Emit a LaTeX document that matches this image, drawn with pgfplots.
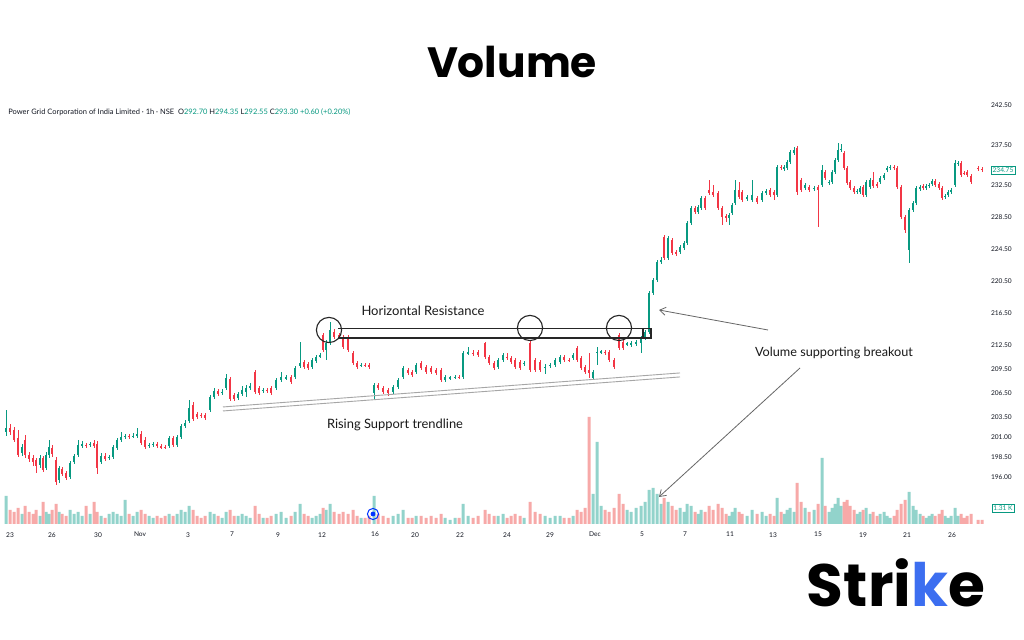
\documentclass[border=0pt]{standalone}
\usepackage{pgfplots}
\pgfplotsset{compat=1.18}
\usepackage{pgfplotstable}
\usepackage{fontspec}
\usetikzlibrary{arrows.meta}
\setmainfont{Lato}
\newfontfamily\pop{Poppins}
\definecolor{cup}{HTML}{089981}
\definecolor{cdn}{HTML}{F23645}
\definecolor{vup}{HTML}{92D3CB}
\definecolor{vdn}{HTML}{F7A9A8}
\definecolor{logoblue}{HTML}{3C6EF0}
\definecolor{txt}{HTML}{131722}
\newcommand\tickfont{\fontsize{3.3}{4}\selectfont\color{txt}}

\pgfplotstableread{
x o h l c v
6 201.60 204.35 201.10 202.10 560
10 202.10 202.60 201.23 201.60 280
14 201.85 202.23 200.35 200.60 240
18 200.85 201.85 198.48 198.73 320
22 198.98 200.10 198.60 199.73 200
25 200.60 201.23 198.35 198.73 360
29 198.73 199.10 197.85 198.23 240
33 198.35 198.73 197.35 197.85 200
36 198.10 198.35 196.48 197.35 280
40 197.48 198.73 197.10 198.35 160
43 198.35 198.60 196.60 196.85 440
46 197.10 199.10 196.85 198.73 240
49 198.73 200.60 198.35 199.73 200
52 199.60 199.98 198.48 198.85 280
56 198.10 198.48 194.98 195.35 400
59 195.60 197.35 195.23 197.10 240
62 196.98 197.23 196.10 196.35 200
66 196.48 196.73 195.60 195.85 160
70 195.98 197.98 195.73 197.73 280
74 197.85 198.85 197.60 198.60 200
78 198.73 200.60 198.48 199.98 240
82 199.85 200.48 199.60 200.10 160
86 199.98 200.23 199.60 199.85 360
90 199.98 200.35 199.73 200.10 200
94 200.23 200.60 199.60 199.85 440
97 200.10 200.48 196.35 197.10 240
101 197.85 198.98 197.60 198.60 160
105 198.60 198.98 197.98 198.23 120
109 198.35 198.73 198.10 198.48 200
113 198.48 199.98 198.23 199.73 240
117 199.60 200.85 199.35 200.60 200
121 200.60 201.60 200.35 200.98 160
125 200.98 201.35 200.73 201.10 480
129 201.10 201.35 200.73 200.98 200
133 200.98 201.48 200.85 201.10 160
137 201.10 202.10 200.85 201.35 240
141 201.35 201.73 199.98 200.23 280
145 200.60 200.98 199.48 199.73 200
149 199.85 200.23 199.60 199.98 160
153 199.98 200.35 199.73 200.10 120
157 200.10 200.35 199.60 199.85 160
161 199.85 200.10 199.48 199.60 120
165 199.73 199.98 199.48 199.65 160
169 199.85 201.10 199.60 200.85 200
173 200.85 201.10 199.73 199.98 160
177 199.98 201.23 199.73 200.98 200
181 200.98 202.60 200.73 202.35 280
185 202.35 203.10 202.10 202.73 240
189 202.98 205.60 202.73 204.60 360
193 204.98 205.35 202.98 203.23 280
197 203.85 204.10 203.23 203.48 160
201 203.73 203.98 203.35 203.60 120
205 203.73 203.98 203.10 203.35 160
210 204.35 206.23 204.10 205.98 240
214 205.98 207.10 205.73 206.73 200
218 206.73 206.98 206.10 206.35 160
222 206.48 206.98 206.23 206.60 120
226 207.10 208.85 206.85 208.35 240
230 208.23 208.48 205.48 205.73 280
234 206.23 206.48 205.48 205.73 160
238 205.85 206.60 205.60 206.35 160
242 206.35 207.35 206.10 206.85 200
246 206.60 207.48 205.98 207.10 160
250 207.10 207.73 206.85 207.35 120
255 209.10 209.35 206.35 206.60 360
259 207.10 207.35 206.23 206.48 200
263 206.73 207.10 206.48 206.85 120
267 206.85 207.10 206.48 206.73 120
271 207.10 207.35 206.23 206.48 160
276 207.10 208.35 206.85 208.10 200
281 208.10 209.10 207.85 208.48 240
286 208.35 208.73 208.10 208.40 120
291 208.48 208.73 207.60 207.85 160
295 208.48 209.85 208.23 209.60 240
300 209.85 212.85 209.60 210.23 400
304 210.35 210.60 209.48 209.73 200
308 210.10 210.35 209.35 209.60 160
312 209.73 210.85 209.48 210.60 120
316 210.48 211.23 210.23 210.98 160
320 210.98 211.48 210.85 211.23 200
323 213.73 213.98 211.60 211.85 320
326 211.85 213.10 210.60 212.73 280
330 212.73 215.35 212.48 214.35 400
334 214.10 214.48 213.23 213.48 240
339 213.73 213.98 213.23 213.48 200
343 213.48 213.73 211.98 212.23 240
348 213.48 213.73 211.60 211.85 200
353 211.48 211.73 209.98 210.23 280
357 210.23 210.48 209.48 209.73 160
361 209.85 210.23 209.73 209.98 120
365 209.98 210.23 209.73 209.90 120
369 209.98 210.23 209.48 209.73 160
374 206.48 207.73 205.60 207.48 560
378 207.48 207.73 206.85 207.10 200
383 207.10 207.35 206.35 206.60 160
388 206.85 207.10 206.10 206.48 120
393 206.60 207.48 206.35 207.23 160
398 207.23 208.35 206.98 208.10 200
403 208.48 209.85 208.23 209.60 280
408 209.35 209.60 208.73 208.98 120
412 209.10 209.35 208.48 208.73 120
416 209.10 210.23 208.85 209.98 160
421 210.23 210.48 209.35 209.60 160
426 209.73 209.98 208.85 209.10 120
431 209.60 209.85 208.85 209.10 160
436 209.35 209.60 208.73 208.98 120
441 209.35 209.60 207.85 208.10 200
445 208.10 208.73 207.85 208.48 120
450 208.35 208.60 208.10 208.40 80
455 208.35 208.73 208.23 208.48 120
459 208.48 208.73 208.23 208.40 120
463 208.48 211.73 208.23 211.48 400
468 211.48 212.23 211.23 211.55 160
473 211.48 211.85 211.10 211.40 120
478 211.60 211.85 210.98 211.23 160
485 212.73 212.85 210.73 210.98 280
489 210.98 211.23 209.98 210.23 200
494 210.23 210.48 209.35 209.60 160
498 209.73 210.85 209.48 210.60 160
503 210.60 211.48 210.35 211.23 200
507 210.98 211.48 210.60 210.85 120
511 210.85 211.10 210.10 210.35 160
515 210.60 210.85 209.48 209.73 200
520 210.35 210.60 209.35 209.60 160
524 210.10 210.48 209.85 210.23 120
530 212.73 212.98 209.10 209.35 440
535 210.60 210.85 209.10 209.35 240
540 210.35 210.60 209.10 209.35 200
545 209.60 210.10 208.85 209.73 160
550 209.85 210.23 209.60 209.98 120
555 209.98 210.85 209.73 210.60 160
560 210.35 211.23 210.10 210.98 160
564 210.98 211.23 210.35 210.60 120
569 210.60 210.85 210.35 210.55 120
573 210.85 211.48 210.60 211.23 160
577 212.10 212.35 210.35 210.60 280
581 210.85 211.10 209.35 209.60 240
585 209.73 209.98 208.85 209.10 320
589 209.35 211.48 208.35 208.98 2140
593 208.35 209.35 208.10 209.10 600
597 211.55 212.23 209.98 211.60 1640
601 211.60 211.85 211.35 211.65 360
605 211.60 211.85 211.23 211.48 280
609 211.60 211.85 210.35 210.60 240
614 210.60 210.85 209.48 209.73 320
619 213.73 213.98 211.85 212.10 600
623 212.85 213.10 211.85 212.10 400
627 212.60 212.85 212.35 212.65 280
631 212.48 212.98 212.23 212.73 240
636 212.60 213.10 212.35 212.85 320
641 212.73 213.60 211.48 213.35 360
645 213.35 214.35 213.10 214.10 440
649 214.10 219.23 213.85 218.98 680
653 218.98 220.85 218.73 220.60 720
657 220.60 223.10 220.35 222.85 600
661 222.85 223.48 222.60 223.10 400
664 225.98 226.23 223.10 223.35 520
668 223.35 226.10 223.10 225.85 440
672 225.60 225.85 223.73 223.98 360
676 224.10 224.35 223.60 223.85 280
680 224.10 224.98 223.85 224.73 320
684 224.60 225.48 224.35 225.23 240
687 225.23 227.98 224.98 227.73 400
691 227.73 229.85 227.48 229.60 360
695 229.60 229.85 228.85 229.10 240
698 229.10 229.98 228.85 229.73 200
701 229.60 231.10 229.35 230.85 280
705 230.85 231.10 229.35 229.60 240
709 231.85 233.10 231.23 231.48 360
713 231.60 232.48 230.98 231.23 280
718 231.48 231.73 229.35 229.60 400
722 229.60 229.85 227.48 228.48 320
726 228.60 228.85 227.85 228.35 200
729 228.35 228.98 227.48 228.73 160
732 228.98 230.23 228.73 229.98 240
735 230.23 233.10 229.98 231.85 320
739 231.85 232.85 230.73 230.98 240
742 231.60 231.85 230.35 230.60 200
747 230.73 231.23 230.48 230.98 160
752 230.60 233.10 230.35 231.23 280
757 230.85 231.10 230.10 230.35 200
762 230.60 231.73 230.35 231.48 240
766 231.48 231.98 231.23 231.73 160
770 231.85 232.10 230.98 231.23 200
774 231.60 231.85 230.60 231.23 160
777 231.23 234.98 230.98 234.73 520
781 234.73 234.98 234.35 234.60 240
784 234.48 234.98 234.23 234.73 200
787 234.60 235.60 234.35 235.35 280
790 235.35 236.85 235.10 236.60 320
794 236.48 237.23 236.23 236.85 240
797 237.10 237.35 231.23 231.60 820
801 233.10 233.35 231.60 231.85 440
805 232.10 232.73 231.85 232.48 320
809 232.23 232.48 231.60 231.85 240
814 231.98 232.35 231.73 232.10 280
818 232.23 232.48 227.23 231.85 400
822 232.48 234.98 232.23 234.35 1320
825 234.10 234.35 233.10 233.35 360
829 232.73 233.10 232.48 232.85 240
832 232.85 234.35 232.60 234.10 320
835 234.10 235.85 233.85 235.60 400
838 235.60 237.73 235.35 236.85 520
841 236.85 237.60 236.60 236.98 360
844 236.48 236.73 234.35 234.60 440
847 234.60 234.85 232.48 232.73 480
850 232.85 233.10 231.85 232.10 360
854 232.10 232.35 231.35 231.60 280
857 231.60 231.98 231.35 231.73 200
860 231.60 232.35 231.35 232.10 240
863 232.23 232.48 230.98 231.23 280
866 231.23 233.10 230.98 232.85 320
870 232.23 233.35 231.98 233.10 200
873 233.10 234.10 232.10 232.35 240
877 232.60 232.85 232.10 232.35 160
880 232.85 233.60 232.60 233.35 200
884 233.35 233.98 233.10 233.73 240
887 234.35 234.85 234.10 234.60 160
890 234.60 234.98 234.35 234.73 120
894 234.73 234.98 234.35 234.60 160
897 234.60 234.85 231.98 232.23 280
901 232.23 232.48 228.23 228.48 400
905 228.48 228.73 226.48 226.85 480
909 224.35 229.60 222.73 229.35 640
913 229.35 230.48 229.10 230.23 360
916 230.23 232.35 229.98 232.10 280
920 231.98 232.48 231.73 232.23 200
923 232.35 232.60 231.85 232.10 160
926 232.10 232.60 231.85 232.35 120
929 232.35 232.73 232.10 232.48 160
932 232.60 233.23 232.35 232.98 200
935 232.98 233.23 232.23 232.48 160
939 232.60 232.85 231.85 232.10 200
942 232.10 232.35 230.60 230.85 280
945 230.98 231.35 230.73 231.10 160
948 231.23 231.85 230.98 231.60 120
951 231.60 232.10 231.35 231.85 160
955 232.48 235.60 232.23 235.23 320
958 235.10 235.48 234.85 235.23 160
961 235.23 235.48 233.48 233.73 200
964 233.98 234.23 233.73 233.90 120
967 234.10 234.35 233.48 233.73 160
971 233.60 233.85 232.60 232.85 200
978 234.60 234.85 234.23 234.48 80
982 234.48 234.73 234.10 234.35 80
}\candles

\begin{document}
\begin{tikzpicture}
\fill[white] (0,0) rectangle (512pt,320pt);
\useasboundingbox (0,0) rectangle (512pt,320pt);

% volume
\begin{axis}[at={(0pt,58pt)}, anchor=south west, scale only axis,
  width=492pt, height=212pt, xmin=0, xmax=984, ymin=0, ymax=8480, hide axis]
\addplot[ybar, bar width=3, bar shift=0pt, fill=vup, draw=none]
  table[x=x, y expr={\thisrow{c}>=\thisrow{o} ? \thisrow{v} : nan}] \candles;
\addplot[ybar, bar width=3, bar shift=0pt, fill=vdn, draw=none]
  table[x=x, y expr={\thisrow{c}<\thisrow{o} ? \thisrow{v} : nan}] \candles;
\end{axis}

% price
\begin{axis}[at={(0pt,58pt)}, anchor=south west, scale only axis,
  width=492pt, height=212pt, xmin=0, xmax=984, ymin=190.1, ymax=243.1,
  axis line style={draw=none}, major tick length=0pt, tick style={draw=none},
  clip=false,
  /pgf/number format/assume math mode=true,
  xtick={10,52,98,140,188,232,278,322,375,415,460,507,550,595,642,685,730,773,818,863,907,952},
  xticklabels={23,26,30,Nov,3,7,9,12,16,20,22,24,29,Dec,5,7,11,13,15,19,21,26},
  xticklabel style={font=\tickfont, yshift=-0.6pt},
  ytick={196,198.5,201,203.5,206.5,209.5,212.5,216.5,220.5,224.5,228.5,232.5,237.5,242.5},
  yticklabel pos=right,
  yticklabel style={font=\tickfont, /pgf/number format/fixed, /pgf/number format/fixed zerofill, /pgf/number format/precision=2},
]
% wicks
\addplot[draw=none, mark=none, error bars/.cd, y dir=both, y explicit, error mark=none,
  error bar style={draw=cup, line width=0.3pt}]
  table[x=x, y expr={\thisrow{c}>=\thisrow{o} ? (\thisrow{h}+\thisrow{l})/2 : nan},
        y error expr={(\thisrow{h}-\thisrow{l})/2}] \candles;
\addplot[draw=none, mark=none, error bars/.cd, y dir=both, y explicit, error mark=none,
  error bar style={draw=cdn, line width=0.3pt}]
  table[x=x, y expr={\thisrow{c}<\thisrow{o} ? (\thisrow{h}+\thisrow{l})/2 : nan},
        y error expr={(\thisrow{h}-\thisrow{l})/2}] \candles;
% bodies
\addplot[draw=none, mark=none, error bars/.cd, y dir=both, y explicit, error mark=none,
  error bar style={draw=cup, line width=1.3pt}]
  table[x=x, y expr={\thisrow{c}>=\thisrow{o} ? (\thisrow{o}+\thisrow{c})/2 : nan},
        y error expr={max(abs(\thisrow{c}-\thisrow{o})/2,0.06)}] \candles;
\addplot[draw=none, mark=none, error bars/.cd, y dir=both, y explicit, error mark=none,
  error bar style={draw=cdn, line width=1.3pt}]
  table[x=x, y expr={\thisrow{c}<\thisrow{o} ? (\thisrow{o}+\thisrow{c})/2 : nan},
        y error expr={max(abs(\thisrow{c}-\thisrow{o})/2,0.06)}] \candles;

% resistance
\draw[black!85, line width=0.55pt] (axis cs:338,214.48) -- (axis cs:651,214.48) -- (axis cs:651,213.35) -- (axis cs:338,213.35);
\draw[black!85, line width=0.55pt] (axis cs:643,214.48) -- (axis cs:643,213.35);
\draw[black!85, line width=0.55pt] (axis cs:329,214.35) circle[radius=6.3pt];
\draw[black!85, line width=0.55pt] (axis cs:530,214.6) circle[radius=6.3pt];
\draw[black!85, line width=0.55pt] (axis cs:619,214.6) circle[radius=6.3pt];
% support
\draw[gray!70, line width=0.45pt] (axis cs:223,204.73) -- (axis cs:680,208.98);
\draw[gray!70, line width=0.45pt] (axis cs:223,204.23) -- (axis cs:680,208.48);
% texts
\node[text=black!90] at (axis cs:423,216.73) {\resizebox{61.5pt}{!}{Horizontal Resistance}};
\node[text=black!90] at (axis cs:395,202.48) {\resizebox{68pt}{!}{Rising Support trendline}};
\node[text=black!90] at (axis cs:834,211.48) {\resizebox{79pt}{!}{Volume supporting breakout}};
% arrows
\draw[black!60, line width=0.4pt, -{Straight Barb[length=3pt,width=4pt]}] (axis cs:768,214.35) -- (axis cs:659,216.85);
\draw[black!60, line width=0.4pt, -{Straight Barb[length=3pt,width=4pt]}] (axis cs:800,209.6) -- (axis cs:659,193.48);
% event marker
\draw[blue!80!cyan, line width=0.5pt] (axis cs:373,191.35) circle[radius=2.8pt];
\fill[blue!80!cyan] (axis cs:373,191.35) circle[radius=1.2pt];
\end{axis}

% title
\node at (256pt,289pt) {\resizebox{85pt}{!}{\pop\bfseries Volume}};
% header
\node[anchor=west, inner sep=0pt, text=txt] at (4pt,264pt) {\resizebox{171pt}{!}{Power Grid Corporation of India Limited · 1h · NSE\ \ O\textcolor{cup}{292.70} H\textcolor{cup}{294.35} L\textcolor{cup}{292.55} C\textcolor{cup}{293.30} \textcolor{cup}{+0.60 (+0.20\%)}}};
% price labels
\node[draw=cup, text=cup, fill=white, font=\fontsize{3.3}{4}\selectfont, inner sep=0.8pt, line width=0.3pt] at (501.5pt,235pt) {234.75};
\node[draw=cup, text=cup, fill=white, font=\fontsize{3.3}{4}\selectfont, inner sep=0.8pt, line width=0.3pt] at (501.5pt,66pt) {1.31 K};
% logo
\node at (448pt,28.5pt) {\resizebox{89pt}{!}{\pop\bfseries Stri\textcolor{logoblue}{k}e}};
\end{tikzpicture}
\end{document}
